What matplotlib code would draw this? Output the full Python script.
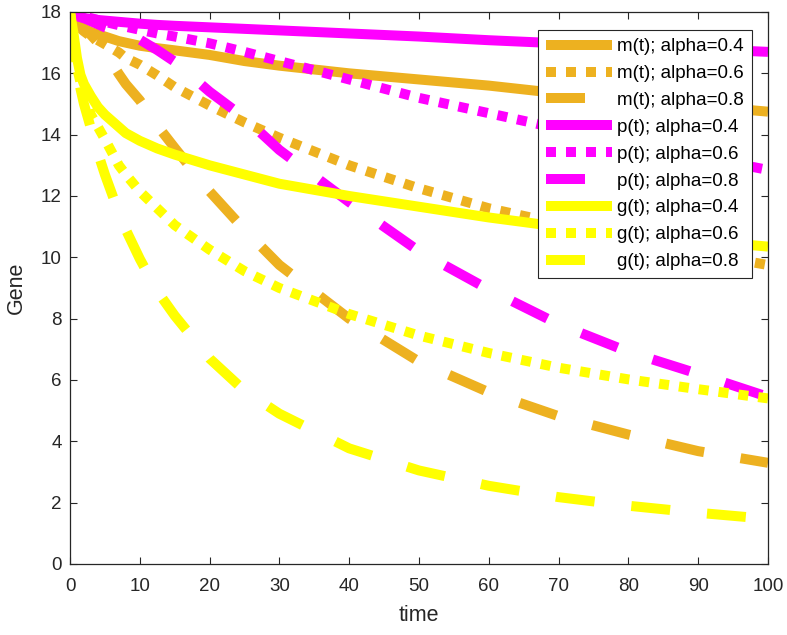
import matplotlib
matplotlib.use("Agg")
import matplotlib.pyplot as plt

plt.rcParams['font.family'] = ['Liberation Sans', 'DejaVu Sans']

# time grid
t = [0, 0.5, 1, 1.5, 2, 3, 4, 5, 7, 8, 10, 12.5, 15, 20, 25, 30, 40, 50, 60, 70, 80, 90, 100]

m_a04 = [18, 17.75, 17.6, 17.5, 17.45, 17.35, 17.27, 17.2, 17.05, 17.0, 16.9, 16.82, 16.75, 16.6, 16.4, 16.25, 16.0, 15.8, 15.6, 15.35, 15.15, 14.95, 14.75]
m_a06 = [18, 17.8, 17.6, 17.47, 17.37, 17.2, 17.08, 16.95, 16.68, 16.5, 16.28, 15.93, 15.55, 14.95, 14.4, 13.9, 13.0, 12.25, 11.6, 11.1, 10.6, 10.15, 9.75]
m_a08 = [18, 17.88, 17.74, 17.6, 17.48, 17.25, 17.0, 16.7, 15.98, 15.65, 15.12, 14.3, 13.57, 12.15, 10.9, 9.75, 8.0, 6.6, 5.6, 4.82, 4.22, 3.68, 3.3]
p_a04 = [18, 17.9, 17.86, 17.83, 17.8, 17.77, 17.74, 17.72, 17.68, 17.66, 17.62, 17.58, 17.55, 17.5, 17.45, 17.4, 17.3, 17.2, 17.08, 16.98, 16.9, 16.8, 16.7]
p_a06 = [18, 17.94, 17.9, 17.87, 17.85, 17.8, 17.74, 17.68, 17.57, 17.52, 17.42, 17.3, 17.2, 16.98, 16.7, 16.4, 15.8, 15.2, 14.7, 14.2, 13.75, 13.3, 12.85]
p_a08 = [18, 17.96, 17.92, 17.86, 17.8, 17.7, 17.6, 17.5, 17.35, 17.27, 17.1, 16.76, 16.38, 15.4, 14.55, 13.5, 11.8, 10.2, 8.95, 7.82, 6.92, 6.2, 5.45]
g_a04 = [18, 17.3, 16.5, 15.95, 15.65, 15.25, 14.9, 14.65, 14.25, 14.05, 13.8, 13.55, 13.35, 13.0, 12.7, 12.4, 12.0, 11.65, 11.3, 11.0, 10.8, 10.55, 10.35]
g_a06 = [18, 17.0, 16.2, 15.7, 15.3, 14.65, 14.25, 13.85, 13.0, 12.7, 12.15, 11.6, 11.05, 10.25, 9.55, 9.0, 8.15, 7.45, 6.88, 6.4, 6.02, 5.7, 5.4]
g_a08 = [18, 17.0, 16.1, 15.5, 15.0, 14.2, 13.4, 12.7, 11.45, 10.9, 9.95, 8.9, 8.1, 6.7, 5.65, 4.9, 3.77, 3.05, 2.55, 2.18, 1.9, 1.67, 1.47]

labels = ['m(t); alpha=0.4', 'm(t); alpha=0.6', 'm(t); alpha=0.8',
          'p(t); alpha=0.4', 'p(t); alpha=0.6', 'p(t); alpha=0.8',
          'g(t); alpha=0.4', 'g(t); alpha=0.6', 'g(t); alpha=0.8']
series = [m_a04, m_a06, m_a08, p_a04, p_a06, p_a08, g_a04, g_a06, g_a08]

orange = '#EDB120'
magenta = '#FF00FF'
yellow = '#FFFF00'
colors = [orange] * 3 + [magenta] * 3 + [yellow] * 3
styles = [None, (0, (1.0, 1.0)), (0, (3.9, 3.7))] * 3

fig = plt.figure(figsize=(7.87, 6.35), dpi=100)
ax = fig.add_axes([70 / 787, 71 / 635, 698 / 787, 552 / 635])

lw = 7.2
for y, lab, c, ls in zip(series, labels, colors, styles):
    if ls is None:
        ax.plot(t, y, color=c, lw=lw, label=lab, solid_capstyle='butt',
                solid_joinstyle='round')
    else:
        ax.plot(t, y, color=c, lw=lw, linestyle=ls, label=lab, dash_capstyle='butt',
                dash_joinstyle='round')

ax.set_xlim(0, 100)
ax.set_ylim(0, 18)
ax.set_xticks(range(0, 101, 10))
ax.set_yticks(range(0, 19, 2))

axc = '#262626'
for s in ax.spines.values():
    s.set_color(axc)
    s.set_linewidth(0.9)
ax.tick_params(direction='in', length=5, width=0.8, colors=axc,
               top=True, right=True, labelsize=13.5)
ax.tick_params(axis='x', pad=10)
ax.tick_params(axis='y', pad=6)
ax.set_xlabel('time', fontsize=15.5, color=axc, labelpad=7)
ax.set_ylabel('Gene', fontsize=15.5, color=axc, labelpad=10)

leg = ax.legend(loc='upper right', bbox_to_anchor=(0.977, 0.967), borderaxespad=0,
                fontsize=13.5, handlelength=3.5, handletextpad=0.3,
                labelspacing=0.52, borderpad=0.42, frameon=True, fancybox=False,
                framealpha=1)
leg.get_frame().set_edgecolor(axc)
leg.get_frame().set_linewidth(0.8)

fig.savefig('out.png', dpi=100)
